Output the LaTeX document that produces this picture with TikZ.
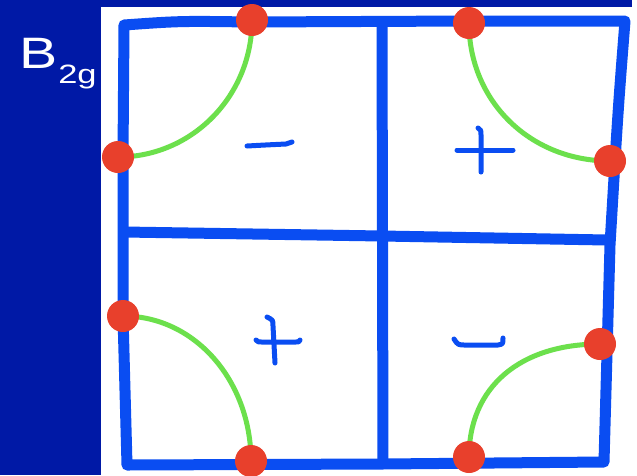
\documentclass[tikz,border=0pt]{standalone}
\usepackage{fontspec}
\setmainfont{Liberation Sans}
\definecolor{bgblue}{HTML}{0019A6}
\definecolor{gridblue}{HTML}{0A4DF2}
\definecolor{dotred}{HTML}{E8402C}
\definecolor{arcgreen}{HTML}{6CE04C}
\pgfdeclarelayer{background}
\pgfdeclarelayer{canvas}
\pgfsetlayers{canvas,background,main}
\tikzset{
  gridline/.style={draw=gridblue, line width=11pt, line cap=round, line join=round},
  signline/.style={draw=gridblue, line width=5pt, line cap=round, line join=round},
  nodalarc/.style={draw=arcgreen, line width=5pt},
  dot/.style={circle, fill=dotred, minimum size=32pt, inner sep=0pt},
  lbl/.style={text=white, inner sep=0pt, anchor=base west, xscale=1.3}
}
\begin{document}
\begin{tikzpicture}[x=1pt,y=-1pt]
\useasboundingbox (0,0) rectangle (637,475);
\begin{pgfonlayer}{canvas}
\fill[white] (0,0) rectangle (637,475);
\fill[bgblue] (0,0) rectangle (101,475);
\fill[bgblue] (0,0) rectangle (632,7);
\end{pgfonlayer}
% label
\node[lbl, font=\fontsize{44}{44}\selectfont] (B) at (19,68) {B};
\node[lbl, font=\fontsize{26.5}{26.5}\selectfont] (sub) at (58,83) {2g};
% nodal points
\node[dot] (d1) at (252,20) {};
\node[dot] (d2) at (118,157) {};
\node[dot] (d3) at (469,23) {};
\node[dot] (d4) at (610,161) {};
\node[dot] (d5) at (123,316) {};
\node[dot] (d6) at (251,461) {};
\node[dot] (d7) at (600,344) {};
\node[dot] (d8) at (469,457) {};
\begin{pgfonlayer}{background}
% grid
\draw[gridline] (124,25) .. controls (180,21) .. (250,22) -- (470,21) -- (625,21)
  .. controls (618,110) .. (610,245) -- (604,462)
  -- (382,464) -- (127,465) -- (123,316) -- (123,157) -- cycle;
\draw[gridline] (124,232) -- (382,236) -- (607,240);
\draw[gridline] (382,22) -- (383,463);
% nodal lines
\draw[nodalarc] (d1.center) .. controls +(0,76) and +(74,0) .. (d2.center);
\draw[nodalarc] (d3.center) .. controls +(0,78) and +(-80,0) .. (d4.center);
\draw[nodalarc] (d5.center) .. controls +(72,0) and +(0,-80) .. (d6.center);
\draw[nodalarc] (d7.center) .. controls +(-80,0) and +(0,-70) .. (d8.center);
\end{pgfonlayer}
% signs
\draw[signline] (247,146) .. controls (265,145) .. (286,144) -- (292,142);
\draw[signline] (457,150) -- (513,150);
\draw[signline] (478,128) .. controls (481,130) .. (481,135) -- (481,172);
\draw[signline] (256,340) .. controls (258,342) .. (262,342) -- (296,342) .. controls (299,342) .. (300,340);
\draw[signline] (267,317) .. controls (273,320) .. (273,326) -- (275,363);
\draw[signline] (454,339) .. controls (458,345) .. (466,345) -- (498,345) .. controls (503,344) .. (503,338);
\end{tikzpicture}
\end{document}
